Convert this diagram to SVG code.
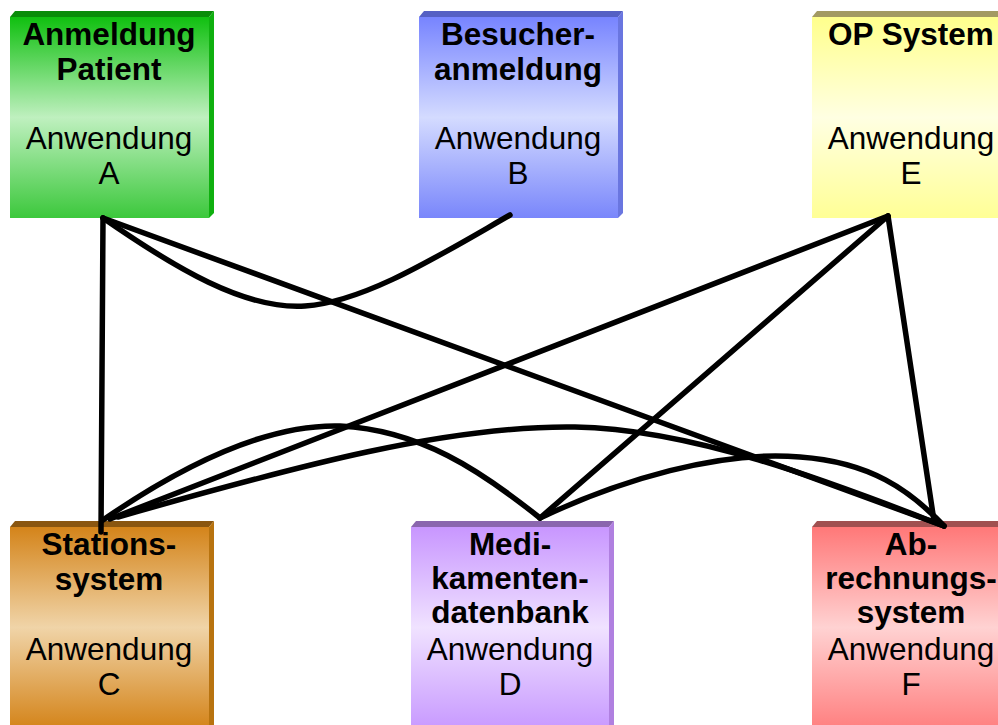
<svg xmlns="http://www.w3.org/2000/svg" width="998" height="725" viewBox="0 0 998 725">
<defs>
<linearGradient id="gA" x1="0" y1="0" x2="0" y2="1"><stop offset="0" stop-color="#10c010"/><stop offset="0.5" stop-color="#bff0bf"/><stop offset="1" stop-color="#3cc83c"/></linearGradient>
<linearGradient id="gB" x1="0" y1="0" x2="0" y2="1"><stop offset="0" stop-color="#7784ff"/><stop offset="0.5" stop-color="#d4dbff"/><stop offset="1" stop-color="#7986fb"/></linearGradient>
<linearGradient id="gE" x1="0" y1="0" x2="0" y2="1"><stop offset="0" stop-color="#ffff8c"/><stop offset="0.5" stop-color="#ffffe2"/><stop offset="1" stop-color="#ffff96"/></linearGradient>
<linearGradient id="gC" x1="0" y1="0" x2="0" y2="1"><stop offset="0" stop-color="#d4841a"/><stop offset="0.5" stop-color="#f0d4a8"/><stop offset="1" stop-color="#d4841a"/></linearGradient>
<linearGradient id="gD" x1="0" y1="0" x2="0" y2="1"><stop offset="0" stop-color="#c896ff"/><stop offset="0.5" stop-color="#f0e2ff"/><stop offset="1" stop-color="#c89aff"/></linearGradient>
<linearGradient id="gF" x1="0" y1="0" x2="0" y2="1"><stop offset="0" stop-color="#ff7878"/><stop offset="0.5" stop-color="#ffd2d2"/><stop offset="1" stop-color="#ff8080"/></linearGradient>
</defs>
<style>
text{font-family:"Liberation Sans",Arial,sans-serif;font-size:31.5px;fill:#000;text-anchor:middle}
.b{font-weight:bold}
.con{fill:none;stroke:#000;stroke-width:5.5;stroke-linecap:round;stroke-linejoin:round}
</style>

<g id="nodeA">
<polygon points="10,17 15,11 214,11 209,17" fill="#0a8c0a"/>
<polygon points="209,17 214,11 214,213 209,218" fill="#0fb00f"/>
<rect x="10" y="17" width="199" height="201" fill="url(#gA)"/>
<text class="b" x="109" y="45">Anmeldung</text>
<text class="b" x="109" y="80">Patient</text>
<text x="109" y="149">Anwendung</text>
<text x="109" y="184">A</text>
</g>

<g id="nodeB">
<polygon points="419,17 424,11 623,11 618,17" fill="#5560c4"/>
<polygon points="618,17 623,11 623,213 618,218" fill="#6a76e0"/>
<rect x="419" y="17" width="199" height="201" fill="url(#gB)"/>
<text class="b" x="518" y="45">Besucher-</text>
<text class="b" x="518" y="80">anmeldung</text>
<text x="518" y="149">Anwendung</text>
<text x="518" y="184">B</text>
</g>

<g id="nodeE">
<polygon points="812,17 817,11 1016,11 1011,17" fill="#a39a62"/>
<rect x="812" y="17" width="199" height="201" fill="url(#gE)"/>
<text class="b" x="911" y="45">OP System</text>
<text x="911" y="149">Anwendung</text>
<text x="911" y="184">E</text>
</g>

<g id="nodeC">
<polygon points="10,527 15,521 214,521 209,527" fill="#8a5610"/>
<polygon points="209,527 214,521 214,725 209,725" fill="#b8730f"/>
<rect x="10" y="527" width="199" height="201" fill="url(#gC)"/>
<text class="b" x="109" y="555">Stations-</text>
<text class="b" x="109" y="590">system</text>
<text x="109" y="660">Anwendung</text>
<text x="109" y="695">C</text>
</g>

<g id="nodeD">
<polygon points="411,527 416,521 614,521 609,527" fill="#8a66ae"/>
<polygon points="609,527 614,521 614,725 609,725" fill="#b080e0"/>
<rect x="411" y="527" width="198" height="201" fill="url(#gD)"/>
<text class="b" x="510" y="555">Medi-</text>
<text class="b" x="510" y="589">kamenten-</text>
<text class="b" x="510" y="623">datenbank</text>
<text x="510" y="660">Anwendung</text>
<text x="510" y="695">D</text>
</g>

<g id="nodeF">
<polygon points="812,527 817,521 1016,521 1011,527" fill="#a05050"/>
<rect x="812" y="527" width="199" height="201" fill="url(#gF)"/>
<text class="b" x="911" y="555">Ab-</text>
<text class="b" x="911" y="589">rechnungs-</text>
<text class="b" x="911" y="623">system</text>
<text x="911" y="660">Anwendung</text>
<text x="911" y="695">F</text>
</g>

<g id="connectors">
<path class="con" d="M103,218 L101,532"/>
<path class="con" d="M103,218 L944,526"/>
<path class="con" d="M103,218 C175,268 245,310 305,306 C365,302 440,255 510,215"/>
<path class="con" d="M888,216 L110,519"/>
<path class="con" d="M888,216 L540,518"/>
<path class="con" d="M888,216 L934,521"/>
<path class="con" d="M103,520 C190,460 270,424 340,426 C420,430 480,470 540,518"/>
<path class="con" d="M118,517 C300,465 450,425 575,427 C700,429 850,490 944,526"/>
<path class="con" d="M540,518 C620,480 720,450 800,457 C870,462 910,490 944,526"/>
</g>
</svg>
